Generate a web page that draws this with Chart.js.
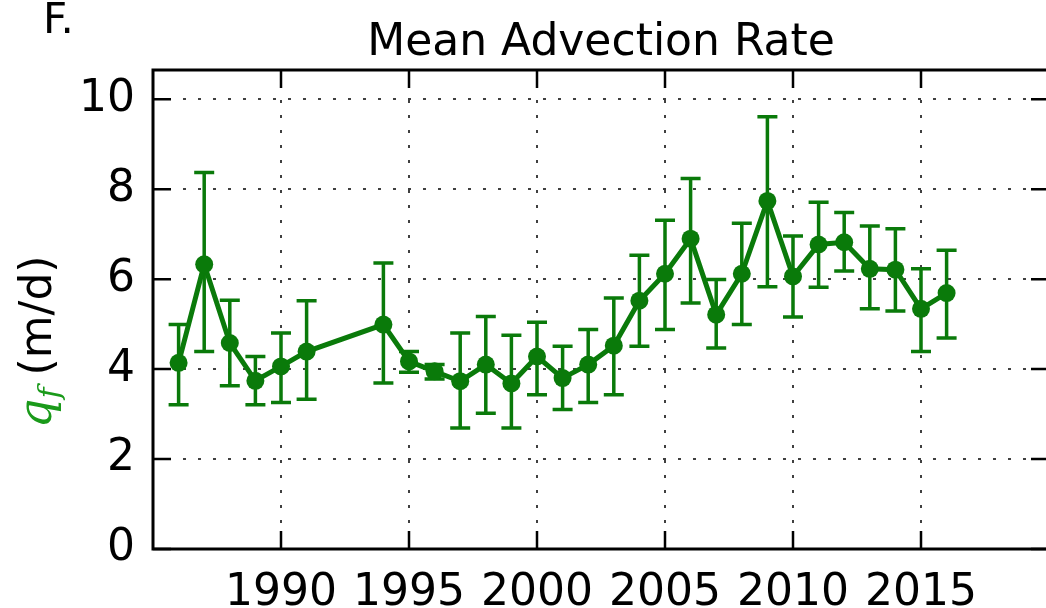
<!DOCTYPE html>
<html>
<head>
<meta charset="utf-8">
<script src="https://cdn.jsdelivr.net/npm/chart.js@4/dist/chart.umd.min.js"></script>
<style>
  html, body { margin: 0; padding: 0; background: #fff; overflow: hidden; }
  #wrap { width: 1046px; height: 608px; overflow: hidden; }
</style>
</head>
<body>
<div id="wrap"><canvas id="advectionChart" width="1050" height="608"></canvas></div>
<script>
// yearly mean advection rate q_f (m/d) with error bar ends
const years = [1986, 1987, 1988, 1989, 1990, 1991, 1994, 1995, 1996, 1997, 1998, 1999, 2000, 2001, 2002,
  2003, 2004, 2005, 2006, 2007, 2008, 2009, 2010, 2011, 2012, 2013, 2014, 2015, 2016];
const rates = [4.14, 6.33, 4.58, 3.74, 4.06, 4.39, 4.99, 4.17, 3.95, 3.73, 4.10, 3.68, 4.28, 3.80, 4.10,
  4.52, 5.52, 6.12, 6.90, 5.21, 6.12, 7.74, 6.06, 6.77, 6.82, 6.23, 6.21, 5.34, 5.69];
const upperErr = [4.99, 8.37, 5.53, 4.28, 4.80, 5.52, 6.36, 4.39, 4.10, 4.80, 5.17, 4.75, 5.04, 4.51, 4.88,
  5.58, 6.53, 7.31, 8.24, 5.99, 7.24, 9.61, 6.96, 7.71, 7.48, 7.18, 7.12, 6.23, 6.64];
const lowerErr = [3.21, 4.39, 3.63, 3.21, 3.26, 3.33, 3.69, 3.93, 3.78, 2.69, 3.02, 2.69, 3.43, 3.10, 3.26,
  3.43, 4.51, 4.88, 5.47, 4.47, 4.99, 5.83, 5.16, 5.82, 6.18, 5.34, 5.29, 4.39, 4.69];
const yTicks = [0, 2, 4, 6, 8, 10];
const xTicks = [1990, 1995, 2000, 2005, 2010, 2015];

const GREEN = "#0a7a0a";
const FONT = "'DejaVu Sans', sans-serif";

const errorBarPlugin = {
  id: "errorBars",
  beforeDatasetsDraw(chart) {
    const { ctx, scales: { x, y } } = chart;
    ctx.save();
    ctx.strokeStyle = GREEN;
    ctx.lineWidth = 3.5;
    years.forEach((year, i) => {
      const px = x.getPixelForValue(year);
      const top = y.getPixelForValue(upperErr[i]);
      const bottom = y.getPixelForValue(lowerErr[i]);
      ctx.beginPath();
      ctx.moveTo(px, top);
      ctx.lineTo(px, bottom);
      ctx.moveTo(px - 10, top);
      ctx.lineTo(px + 10, top);
      ctx.moveTo(px - 10, bottom);
      ctx.lineTo(px + 10, bottom);
      ctx.stroke();
    });
    ctx.restore();
  },
};

const framePlugin = {
  id: "frame",
  afterDraw(chart) {
    const { ctx, chartArea: area, scales: { x, y } } = chart;
    ctx.save();
    ctx.strokeStyle = "#000";
    ctx.lineWidth = 3;
    ctx.strokeRect(area.left, area.top, area.right - area.left, area.bottom - area.top);

    // inward ticks on all four sides
    ctx.lineWidth = 2.5;
    ctx.beginPath();
    xTicks.forEach((v) => {
      const px = x.getPixelForValue(v);
      ctx.moveTo(px, area.bottom);
      ctx.lineTo(px, area.bottom - 18);
      ctx.moveTo(px, area.top);
      ctx.lineTo(px, area.top + 18);
    });
    yTicks.forEach((v) => {
      const py = y.getPixelForValue(v);
      ctx.moveTo(area.left, py);
      ctx.lineTo(area.left + 18, py);
      ctx.moveTo(area.right, py);
      ctx.lineTo(area.right - 18, py);
    });
    ctx.stroke();

    // title and panel letter
    ctx.fillStyle = "#000";
    ctx.font = `44px ${FONT}`;
    ctx.textAlign = "center";
    ctx.textBaseline = "alphabetic";
    ctx.fillText("Mean Advection Rate", (area.left + area.right) / 2, 55);
    ctx.textAlign = "left";
    ctx.font = `42px ${FONT}`;
    ctx.fillText("F.", 43, 33);

    // y axis label: q_f (m/d), rotated
    ctx.translate(51, 428);
    ctx.rotate(-Math.PI / 2);
    ctx.fillStyle = "#1a9a1a";
    ctx.font = `italic 46px 'DejaVu Serif', serif`;
    ctx.fillText("q", 0, 0);
    let cx = ctx.measureText("q").width;
    ctx.font = `italic 30px 'DejaVu Serif', serif`;
    ctx.fillText("f", cx, 8);
    cx += ctx.measureText("f").width + 12;
    ctx.fillStyle = "#000";
    ctx.font = `44px ${FONT}`;
    ctx.fillText("(m/d)", cx, 0);
    ctx.restore();
  },
};

function renderAdvectionChart() {
  const canvas = document.getElementById("advectionChart");
  new Chart(canvas, {
    type: "line",
    data: {
      datasets: [{
        data: years.map((year, i) => ({ x: year, y: rates[i] })),
        borderColor: GREEN,
        backgroundColor: GREEN,
        borderWidth: 5,
        pointRadius: 9,
        pointBorderWidth: 0,
        pointBackgroundColor: GREEN,
        tension: 0,
      }],
    },
    options: {
      responsive: false,
      animation: false,
      layout: { autoPadding: false, padding: { top: 70, right: 1, left: 0, bottom: 0 } },
      plugins: { legend: { display: false }, tooltip: { enabled: false }, title: { display: false } },
      scales: {
        x: {
          type: "linear",
          min: 1985,
          max: 2020,
          afterFit: (scale) => {
            scale.height = 59;
            scale.paddingLeft = 0;
            scale.paddingRight = 0;
          },
          afterBuildTicks: (scale) => { scale.ticks = [1985, ...xTicks, 2020].map((v) => ({ value: v })); },
          ticks: {
            padding: 18,
            color: "#000",
            font: { family: FONT, size: 44 },
            maxRotation: 0,
            autoSkip: false,
            callback: (v) => (xTicks.includes(v) ? String(v) : ""),
          },
          grid: { color: "rgba(0,0,0,0.75)", lineWidth: 2, drawTicks: false },
          border: { display: false, dash: [3, 12] },
        },
        y: {
          min: 0,
          max: 10.65,
          afterFit: (scale) => {
            scale.width = 153;
            scale.paddingTop = 0;
            scale.paddingBottom = 0;
          },
          afterBuildTicks: (scale) => { scale.ticks = yTicks.map((v) => ({ value: v })); },
          ticks: {
            padding: 18,
            color: "#000",
            font: { family: FONT, size: 44 },
          },
          grid: { color: "rgba(0,0,0,0.75)", lineWidth: 2, drawTicks: false },
          border: { display: false, dash: [3, 12] },
        },
      },
    },
    plugins: [errorBarPlugin, framePlugin],
  });
}

window.addEventListener("DOMContentLoaded", renderAdvectionChart);
</script>
</body>
</html>
